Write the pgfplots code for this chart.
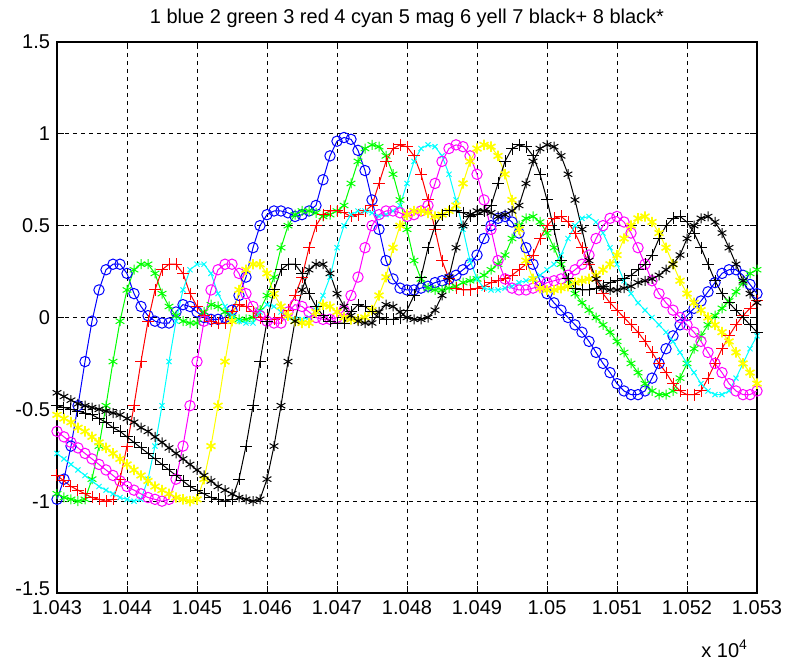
\documentclass[border=0pt]{standalone}
\usepackage{fontspec}
\setmainfont{Liberation Sans}
\usepackage{pgfplots}
\pgfplotsset{compat=1.18}
\definecolor{mblue}{rgb}{0,0,1}
\definecolor{mgreen}{rgb}{0,1,0}
\definecolor{mred}{rgb}{1,0,0}
\definecolor{mcyan}{rgb}{0,1,1}
\definecolor{mmag}{rgb}{1,0,1}
\definecolor{myel}{rgb}{1,1,0}
\begin{document}
\fontsize{10pt}{12pt}\selectfont
\begin{tikzpicture}
\begin{axis}[name=ax, scale only axis, width=350pt, height=275.5pt,
  xmin=10430, xmax=10530, ymin=-1.5, ymax=1.5,
  xtick={10430,10440,10450,10460,10470,10480,10490,10500,10510,10520,10530},
  xticklabels={1.043,1.044,1.045,1.046,1.047,1.048,1.049,1.05,1.051,1.052,1.053},
  ytick={-1.5,-1,-0.5,0,0.5,1,1.5},
  yticklabels={\raisebox{4pt}{-1.5},-1,-0.5,0,0.5,1,1.5},
  scaled x ticks=false,
  tick align=inside, major tick length=3.5pt,
  tick style={black, line width=0.5pt},
  axis line style={black, line width=0.6pt},
  grid=major, grid style={black, line width=0.4pt, dash pattern=on 2pt off 2pt},
  tick label style={font=\fontsize{10pt}{12pt}\selectfont},
  title={1 blue 2 green 3 red 4 cyan 5 mag 6 yell 7 black+ 8 black*},
  title style={at={(0.5,1)}, anchor=base, yshift=3.5pt, font=\fontsize{10pt}{12pt}\selectfont},
  every axis plot/.append style={line width=0.5pt},
]
% 1 blue o
\addplot[mblue, mark=o, mark size=2.6pt, mark options={solid}] coordinates {
(10430,-0.99) (10431,-0.88) (10432,-0.70) (10433,-0.48) (10434,-0.24) (10435,-0.02) (10436,0.15) (10437,0.26) (10438,0.29) (10439,0.29)
(10440,0.24) (10441,0.13) (10442,0.06) (10443,0.01) (10444,-0.02) (10445,-0.03) (10446,-0.03) (10447,0.03) (10448,0.07) (10449,0.06)
(10450,0.03) (10451,0.00) (10452,-0.01) (10453,-0.01) (10454,0.00) (10455,0.04) (10456,0.12) (10457,0.22) (10458,0.38) (10459,0.50)
(10460,0.56) (10461,0.58) (10462,0.58) (10463,0.57) (10464,0.55) (10465,0.56) (10466,0.58) (10467,0.61) (10468,0.75) (10469,0.88)
(10470,0.96) (10471,0.98) (10472,0.97) (10473,0.91) (10474,0.80) (10475,0.64) (10476,0.48) (10477,0.31) (10478,0.21) (10479,0.16)
(10480,0.15) (10481,0.15) (10482,0.16) (10483,0.17) (10484,0.19) (10485,0.20) (10486,0.21) (10487,0.23) (10488,0.26) (10489,0.29)
(10490,0.34) (10491,0.43) (10492,0.50) (10493,0.54) (10494,0.55) (10495,0.52) (10496,0.46) (10497,0.38) (10498,0.29) (10499,0.20)
(10500,0.13) (10501,0.08) (10502,0.04) (10503,0.00) (10504,-0.04) (10505,-0.08) (10506,-0.13) (10507,-0.19) (10508,-0.25) (10509,-0.30)
(10510,-0.36) (10511,-0.40) (10512,-0.42) (10513,-0.42) (10514,-0.40) (10515,-0.33) (10516,-0.25) (10517,-0.17) (10518,-0.10) (10519,-0.04)
(10520,0.01) (10521,0.05) (10522,0.09) (10523,0.14) (10524,0.19) (10525,0.24) (10526,0.26) (10527,0.26) (10528,0.23) (10529,0.18)
(10530,0.13)};
% 2 green *
\addplot[mgreen, mark=asterisk, mark size=2.5pt, mark options={solid}] coordinates {
(10430,-0.96) (10431,-0.98) (10432,-0.99) (10433,-1.00) (10434,-0.99) (10435,-0.88) (10436,-0.70) (10437,-0.48) (10438,-0.24) (10439,-0.02)
(10440,0.15) (10441,0.26) (10442,0.29) (10443,0.29) (10444,0.24) (10445,0.13) (10446,0.06) (10447,0.01) (10448,-0.02) (10449,-0.03)
(10450,-0.03) (10451,0.03) (10452,0.07) (10453,0.06) (10454,0.03) (10455,0.00) (10456,-0.01) (10457,-0.01) (10458,0.00) (10459,0.04)
(10460,0.12) (10461,0.22) (10462,0.38) (10463,0.50) (10464,0.56) (10465,0.58) (10466,0.58) (10467,0.57) (10468,0.55) (10469,0.56)
(10470,0.58) (10471,0.61) (10472,0.73) (10473,0.85) (10474,0.92) (10475,0.94) (10476,0.93) (10477,0.88) (10478,0.78) (10479,0.64)
(10480,0.48) (10481,0.31) (10482,0.21) (10483,0.16) (10484,0.15) (10485,0.15) (10486,0.16) (10487,0.17) (10488,0.19) (10489,0.20)
(10490,0.21) (10491,0.23) (10492,0.26) (10493,0.29) (10494,0.34) (10495,0.43) (10496,0.50) (10497,0.54) (10498,0.55) (10499,0.52)
(10500,0.46) (10501,0.38) (10502,0.29) (10503,0.20) (10504,0.13) (10505,0.08) (10506,0.04) (10507,0.00) (10508,-0.04) (10509,-0.08)
(10510,-0.13) (10511,-0.19) (10512,-0.25) (10513,-0.30) (10514,-0.36) (10515,-0.40) (10516,-0.42) (10517,-0.42) (10518,-0.40) (10519,-0.33)
(10520,-0.25) (10521,-0.17) (10522,-0.10) (10523,-0.04) (10524,0.01) (10525,0.05) (10526,0.09) (10527,0.14) (10528,0.19) (10529,0.24)
(10530,0.26)};
% 3 red +
\addplot[mred, mark=+, mark size=3pt, mark options={solid}] coordinates {
(10430,-0.86) (10431,-0.89) (10432,-0.92) (10433,-0.94) (10434,-0.96) (10435,-0.98) (10436,-0.99) (10437,-1.00) (10438,-0.99) (10439,-0.88)
(10440,-0.70) (10441,-0.48) (10442,-0.24) (10443,-0.02) (10444,0.15) (10445,0.26) (10446,0.29) (10447,0.29) (10448,0.24) (10449,0.13)
(10450,0.06) (10451,0.01) (10452,-0.02) (10453,-0.03) (10454,-0.03) (10455,0.03) (10456,0.07) (10457,0.06) (10458,0.03) (10459,0.00)
(10460,-0.01) (10461,-0.01) (10462,0.00) (10463,0.04) (10464,0.12) (10465,0.22) (10466,0.38) (10467,0.50) (10468,0.56) (10469,0.58)
(10470,0.58) (10471,0.57) (10472,0.55) (10473,0.56) (10474,0.58) (10475,0.61) (10476,0.73) (10477,0.85) (10478,0.92) (10479,0.94)
(10480,0.93) (10481,0.88) (10482,0.78) (10483,0.64) (10484,0.48) (10485,0.31) (10486,0.21) (10487,0.16) (10488,0.15) (10489,0.15)
(10490,0.16) (10491,0.17) (10492,0.19) (10493,0.20) (10494,0.21) (10495,0.23) (10496,0.26) (10497,0.29) (10498,0.34) (10499,0.43)
(10500,0.50) (10501,0.54) (10502,0.55) (10503,0.52) (10504,0.46) (10505,0.38) (10506,0.29) (10507,0.20) (10508,0.13) (10509,0.08)
(10510,0.04) (10511,0.00) (10512,-0.04) (10513,-0.08) (10514,-0.13) (10515,-0.19) (10516,-0.25) (10517,-0.30) (10518,-0.36) (10519,-0.40)
(10520,-0.42) (10521,-0.42) (10522,-0.40) (10523,-0.33) (10524,-0.25) (10525,-0.17) (10526,-0.10) (10527,-0.04) (10528,0.01) (10529,0.05)
(10530,0.09)};
% 4 cyan x
\addplot[mcyan, mark=x, mark size=1.8pt, mark options={solid}] coordinates {
(10430,-0.74) (10431,-0.77) (10432,-0.80) (10433,-0.83) (10434,-0.86) (10435,-0.89) (10436,-0.92) (10437,-0.94) (10438,-0.96) (10439,-0.98)
(10440,-0.99) (10441,-1.00) (10442,-0.99) (10443,-0.88) (10444,-0.70) (10445,-0.48) (10446,-0.24) (10447,-0.02) (10448,0.15) (10449,0.26)
(10450,0.29) (10451,0.29) (10452,0.24) (10453,0.13) (10454,0.06) (10455,0.01) (10456,-0.02) (10457,-0.03) (10458,-0.03) (10459,0.03)
(10460,0.07) (10461,0.06) (10462,0.03) (10463,0.00) (10464,-0.01) (10465,-0.01) (10466,0.00) (10467,0.04) (10468,0.12) (10469,0.22)
(10470,0.38) (10471,0.50) (10472,0.56) (10473,0.58) (10474,0.58) (10475,0.57) (10476,0.55) (10477,0.56) (10478,0.58) (10479,0.61)
(10480,0.73) (10481,0.85) (10482,0.92) (10483,0.94) (10484,0.93) (10485,0.88) (10486,0.78) (10487,0.64) (10488,0.48) (10489,0.31)
(10490,0.21) (10491,0.16) (10492,0.15) (10493,0.15) (10494,0.16) (10495,0.17) (10496,0.19) (10497,0.20) (10498,0.21) (10499,0.23)
(10500,0.26) (10501,0.29) (10502,0.34) (10503,0.43) (10504,0.50) (10505,0.54) (10506,0.55) (10507,0.52) (10508,0.46) (10509,0.38)
(10510,0.29) (10511,0.20) (10512,0.13) (10513,0.08) (10514,0.04) (10515,0.00) (10516,-0.04) (10517,-0.08) (10518,-0.13) (10519,-0.19)
(10520,-0.25) (10521,-0.30) (10522,-0.36) (10523,-0.40) (10524,-0.42) (10525,-0.42) (10526,-0.40) (10527,-0.33) (10528,-0.25) (10529,-0.17)
(10530,-0.10)};
% 5 magenta o
\addplot[mmag, mark=o, mark size=2.6pt, mark options={solid}] coordinates {
(10430,-0.62) (10431,-0.65) (10432,-0.68) (10433,-0.71) (10434,-0.74) (10435,-0.77) (10436,-0.80) (10437,-0.83) (10438,-0.86) (10439,-0.89)
(10440,-0.92) (10441,-0.94) (10442,-0.96) (10443,-0.98) (10444,-0.99) (10445,-1.00) (10446,-0.99) (10447,-0.88) (10448,-0.70) (10449,-0.48)
(10450,-0.24) (10451,-0.02) (10452,0.15) (10453,0.26) (10454,0.29) (10455,0.29) (10456,0.24) (10457,0.13) (10458,0.06) (10459,0.01)
(10460,-0.02) (10461,-0.03) (10462,-0.03) (10463,0.03) (10464,0.07) (10465,0.06) (10466,0.03) (10467,0.00) (10468,-0.01) (10469,-0.01)
(10470,0.00) (10471,0.04) (10472,0.12) (10473,0.22) (10474,0.38) (10475,0.50) (10476,0.56) (10477,0.58) (10478,0.58) (10479,0.57)
(10480,0.55) (10481,0.56) (10482,0.58) (10483,0.61) (10484,0.73) (10485,0.85) (10486,0.92) (10487,0.94) (10488,0.93) (10489,0.88)
(10490,0.78) (10491,0.64) (10492,0.48) (10493,0.31) (10494,0.21) (10495,0.16) (10496,0.15) (10497,0.15) (10498,0.16) (10499,0.17)
(10500,0.19) (10501,0.20) (10502,0.21) (10503,0.23) (10504,0.26) (10505,0.29) (10506,0.34) (10507,0.43) (10508,0.50) (10509,0.54)
(10510,0.55) (10511,0.52) (10512,0.46) (10513,0.38) (10514,0.29) (10515,0.20) (10516,0.13) (10517,0.08) (10518,0.04) (10519,0.00)
(10520,-0.04) (10521,-0.08) (10522,-0.13) (10523,-0.19) (10524,-0.25) (10525,-0.30) (10526,-0.36) (10527,-0.40) (10528,-0.42) (10529,-0.42)
(10530,-0.40)};
% 6 yellow
\addplot[myel, mark=asterisk, mark size=2.6pt, mark options={solid, line width=0.8pt}] coordinates {
(10430,-0.53) (10431,-0.55) (10432,-0.57) (10433,-0.60) (10434,-0.62) (10435,-0.65) (10436,-0.68) (10437,-0.71) (10438,-0.74) (10439,-0.77)
(10440,-0.80) (10441,-0.83) (10442,-0.86) (10443,-0.89) (10444,-0.92) (10445,-0.94) (10446,-0.96) (10447,-0.98) (10448,-0.99) (10449,-1.00)
(10450,-0.99) (10451,-0.88) (10452,-0.70) (10453,-0.48) (10454,-0.24) (10455,-0.02) (10456,0.15) (10457,0.26) (10458,0.29) (10459,0.29)
(10460,0.24) (10461,0.13) (10462,0.06) (10463,0.01) (10464,-0.02) (10465,-0.03) (10466,-0.03) (10467,0.03) (10468,0.07) (10469,0.06)
(10470,0.03) (10471,0.00) (10472,-0.01) (10473,-0.01) (10474,0.00) (10475,0.04) (10476,0.12) (10477,0.22) (10478,0.38) (10479,0.50)
(10480,0.56) (10481,0.58) (10482,0.58) (10483,0.57) (10484,0.55) (10485,0.56) (10486,0.58) (10487,0.61) (10488,0.73) (10489,0.85)
(10490,0.92) (10491,0.94) (10492,0.93) (10493,0.88) (10494,0.78) (10495,0.64) (10496,0.48) (10497,0.31) (10498,0.21) (10499,0.16)
(10500,0.15) (10501,0.15) (10502,0.16) (10503,0.17) (10504,0.19) (10505,0.20) (10506,0.21) (10507,0.23) (10508,0.26) (10509,0.29)
(10510,0.34) (10511,0.43) (10512,0.50) (10513,0.54) (10514,0.55) (10515,0.52) (10516,0.46) (10517,0.38) (10518,0.29) (10519,0.20)
(10520,0.13) (10521,0.08) (10522,0.04) (10523,0.00) (10524,-0.04) (10525,-0.08) (10526,-0.13) (10527,-0.19) (10528,-0.25) (10529,-0.30)
(10530,-0.36)};
% 7 black +
\addplot[black, mark=+, mark size=3pt, mark options={solid}] coordinates {
(10430,-0.48) (10431,-0.49) (10432,-0.50) (10433,-0.51) (10434,-0.52) (10435,-0.53) (10436,-0.55) (10437,-0.57) (10438,-0.60) (10439,-0.62)
(10440,-0.65) (10441,-0.68) (10442,-0.71) (10443,-0.74) (10444,-0.77) (10445,-0.80) (10446,-0.83) (10447,-0.86) (10448,-0.89) (10449,-0.92)
(10450,-0.94) (10451,-0.96) (10452,-0.98) (10453,-0.99) (10454,-1.00) (10455,-0.99) (10456,-0.88) (10457,-0.70) (10458,-0.48) (10459,-0.24)
(10460,-0.02) (10461,0.15) (10462,0.26) (10463,0.29) (10464,0.29) (10465,0.24) (10466,0.13) (10467,0.06) (10468,0.01) (10469,-0.02)
(10470,-0.03) (10471,-0.03) (10472,0.03) (10473,0.07) (10474,0.06) (10475,0.03) (10476,0.00) (10477,-0.01) (10478,-0.01) (10479,0.00)
(10480,0.04) (10481,0.12) (10482,0.22) (10483,0.38) (10484,0.50) (10485,0.56) (10486,0.58) (10487,0.58) (10488,0.57) (10489,0.55)
(10490,0.56) (10491,0.58) (10492,0.61) (10493,0.73) (10494,0.85) (10495,0.92) (10496,0.94) (10497,0.93) (10498,0.88) (10499,0.78)
(10500,0.64) (10501,0.48) (10502,0.31) (10503,0.21) (10504,0.16) (10505,0.15) (10506,0.15) (10507,0.16) (10508,0.17) (10509,0.19)
(10510,0.20) (10511,0.21) (10512,0.23) (10513,0.26) (10514,0.29) (10515,0.34) (10516,0.43) (10517,0.50) (10518,0.54) (10519,0.55)
(10520,0.52) (10521,0.46) (10522,0.38) (10523,0.29) (10524,0.20) (10525,0.13) (10526,0.08) (10527,0.04) (10528,0.00) (10529,-0.04)
(10530,-0.08)};
% 8 black *
\addplot[black, mark=asterisk, mark size=2.5pt, mark options={solid}] coordinates {
(10430,-0.41) (10431,-0.43) (10432,-0.45) (10433,-0.47) (10434,-0.48) (10435,-0.49) (10436,-0.50) (10437,-0.51) (10438,-0.52) (10439,-0.53)
(10440,-0.55) (10441,-0.57) (10442,-0.60) (10443,-0.62) (10444,-0.65) (10445,-0.68) (10446,-0.71) (10447,-0.74) (10448,-0.77) (10449,-0.80)
(10450,-0.83) (10451,-0.86) (10452,-0.89) (10453,-0.92) (10454,-0.94) (10455,-0.96) (10456,-0.98) (10457,-0.99) (10458,-1.00) (10459,-0.99)
(10460,-0.88) (10461,-0.70) (10462,-0.48) (10463,-0.24) (10464,-0.02) (10465,0.15) (10466,0.26) (10467,0.29) (10468,0.29) (10469,0.24)
(10470,0.13) (10471,0.06) (10472,0.01) (10473,-0.02) (10474,-0.03) (10475,-0.03) (10476,0.03) (10477,0.07) (10478,0.06) (10479,0.03)
(10480,0.00) (10481,-0.01) (10482,-0.01) (10483,0.00) (10484,0.04) (10485,0.12) (10486,0.22) (10487,0.38) (10488,0.50) (10489,0.56)
(10490,0.58) (10491,0.58) (10492,0.57) (10493,0.55) (10494,0.56) (10495,0.58) (10496,0.61) (10497,0.73) (10498,0.85) (10499,0.92)
(10500,0.94) (10501,0.93) (10502,0.88) (10503,0.78) (10504,0.64) (10505,0.48) (10506,0.31) (10507,0.21) (10508,0.16) (10509,0.15)
(10510,0.15) (10511,0.16) (10512,0.17) (10513,0.19) (10514,0.20) (10515,0.21) (10516,0.23) (10517,0.26) (10518,0.29) (10519,0.34)
(10520,0.43) (10521,0.50) (10522,0.54) (10523,0.55) (10524,0.52) (10525,0.46) (10526,0.38) (10527,0.29) (10528,0.20) (10529,0.13)
(10530,0.08)};
\end{axis}
\node[anchor=base east, font=\fontsize{10pt}{12pt}\selectfont] at ([xshift=-1pt, yshift=-32pt]ax.south east) {x 10\textsuperscript{4}};
\pgfresetboundingbox
\path[use as bounding box] ([shift={(-28.5pt,-35.5pt)}]ax.south west) rectangle ([shift={(14pt,21pt)}]ax.north east);
\end{tikzpicture}
\end{document}
